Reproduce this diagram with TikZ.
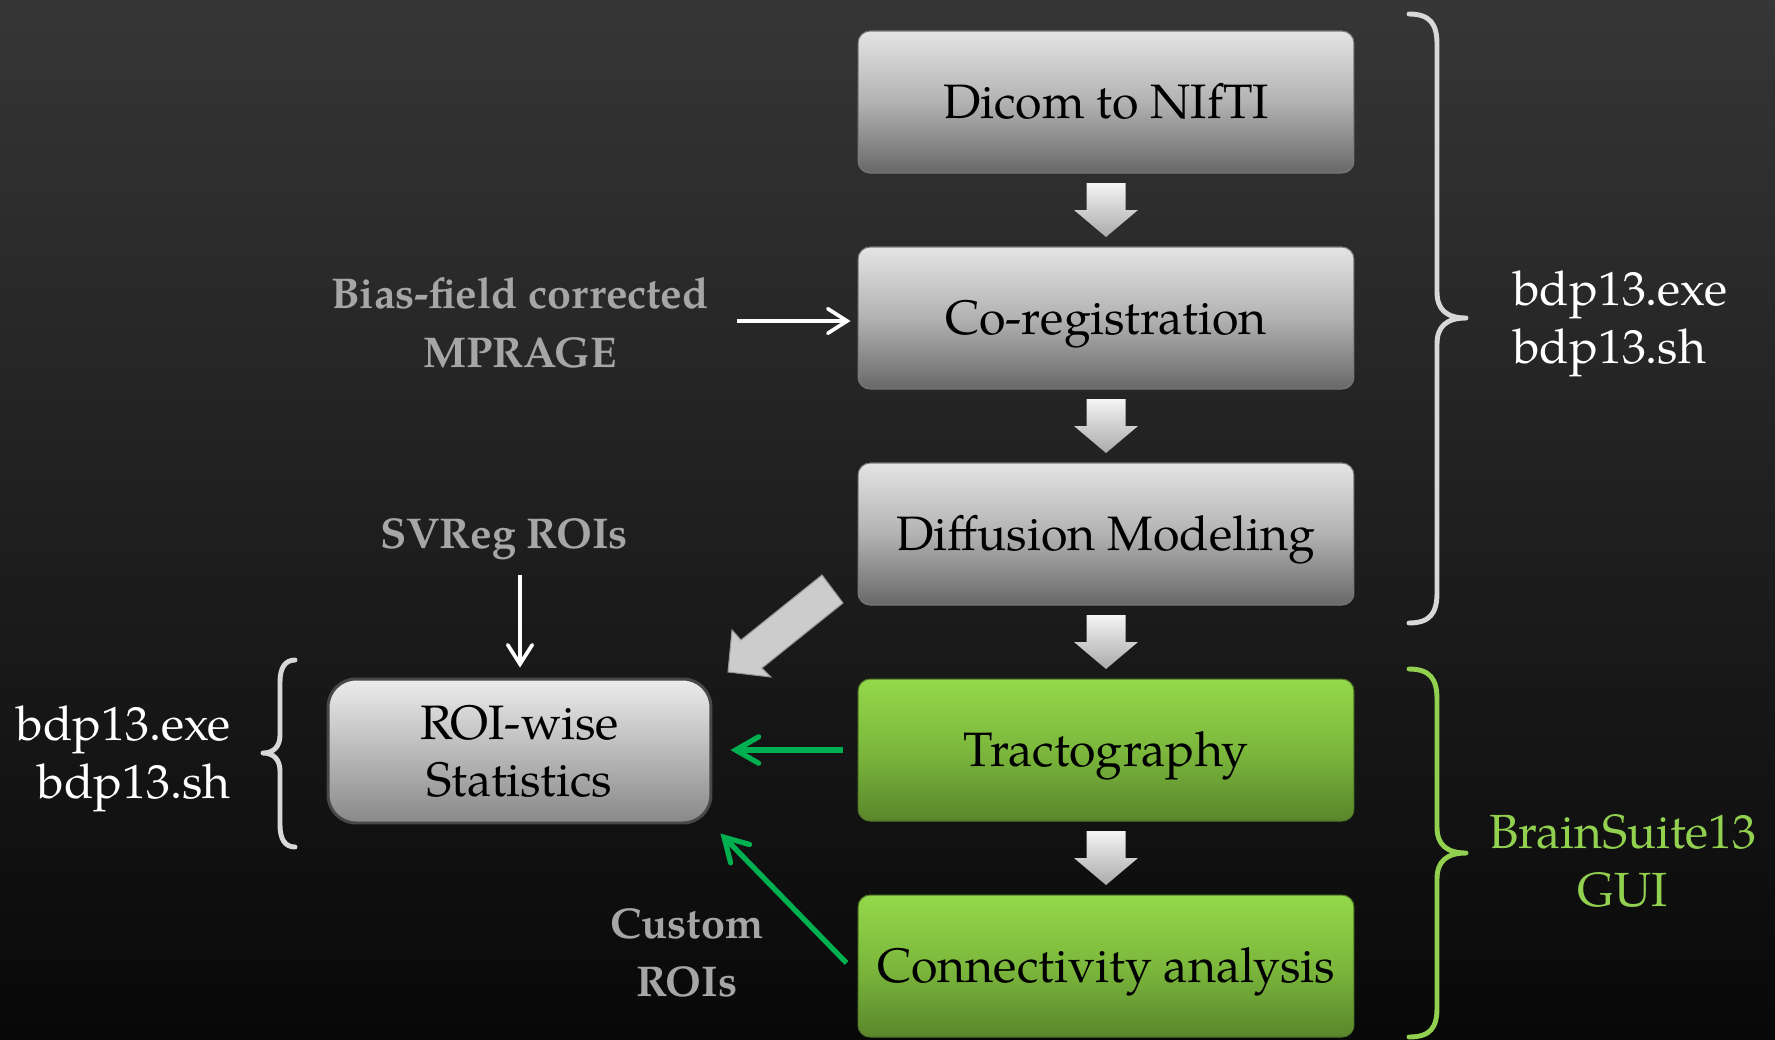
\documentclass[tikz,border=0pt]{standalone}
\usepackage{fontspec}
\setmainfont{texgyrepagella}[Extension=.otf, UprightFont=*-regular, BoldFont=*-bold, ItalicFont=*-italic, BoldItalicFont=*-bolditalic]
\usetikzlibrary{arrows.meta,calc}

\definecolor{bgtop}{RGB}{54,54,54}
\definecolor{bgbot}{RGB}{8,8,8}
\definecolor{gtop}{RGB}{228,228,228}
\definecolor{gmid}{RGB}{178,178,178}
\definecolor{gbot}{RGB}{104,104,104}
\definecolor{gedge}{RGB}{120,120,120}
\definecolor{ltop}{RGB}{148,216,74}
\definecolor{lmid}{RGB}{124,184,60}
\definecolor{lbot}{RGB}{90,134,44}
\definecolor{ledge}{RGB}{80,120,40}
\definecolor{rtop}{RGB}{236,236,236}
\definecolor{rbot}{RGB}{136,136,136}
\definecolor{redge}{RGB}{72,72,72}
\definecolor{atop}{RGB}{244,244,244}
\definecolor{abot}{RGB}{170,170,170}
\definecolor{labelgray}{RGB}{166,166,166}
\definecolor{bracegray}{RGB}{216,216,216}
\definecolor{suitegreen}{RGB}{146,208,80}
\definecolor{linkgreen}{RGB}{0,176,80}
\definecolor{bigarrow}{RGB}{204,204,204}
\definecolor{bigarrowedge}{RGB}{150,150,150}

\tikzset{
  flowbox/.style={rounded corners=0.24cm, minimum width=9.92cm, minimum height=2.84cm,
    inner sep=0pt, text=black, font=\fontsize{27.5}{33}\selectfont,
    text height=19pt, text depth=0pt},
  graybox/.style={flowbox, draw=gedge, line width=0.6pt,
    top color=gtop, bottom color=gbot, middle color=gmid},
  greenbox/.style={flowbox, draw=ledge, line width=0.6pt,
    top color=ltop, bottom color=lbot, middle color=lmid},
  roibox/.style={rounded corners=0.56cm, minimum width=7.66cm, minimum height=2.88cm,
    inner sep=0pt, text=black, font=\fontsize{27.5}{32.5}\selectfont, align=center,
    draw=redge, line width=1.7pt, top color=rtop, bottom color=rbot},
  graylabel/.style={text=labelgray, font=\bfseries\fontsize{24.5}{33.4}\selectfont, align=center},
  toollabel/.style={text=white, inner sep=0pt, font=\fontsize{27.3}{32.9}\selectfont},
  bracepen/.style={line width=2.8pt, line cap=round, line join=round},
  whitelink/.style={draw=white, line width=2.1pt,
    -{Straight Barb[length=11pt, width=14pt, line cap=round]}},
  greenlink/.style={draw=linkgreen, line width=3pt,
    -{Straight Barb[length=13pt, width=15pt, line cap=round]}},
  downarrow/.pic={
    \shade[top color=atop, bottom color=abot]
      (-19.5,-27) -- (19.5,-27) -- (19.5,0) -- (32,0) -- (0,27) -- (-32,0) -- (-19.5,0) -- cycle;
  }
}

\begin{document}
\begin{tikzpicture}[x=0.02cm, y=-0.02cm]
  % canvas and backdrop
  \useasboundingbox (0,0) rectangle (1775,1039);
  \shade[top color=bgtop, bottom color=bgbot] (0,0) rectangle (1775,1039);

  % processing chain
  \node[graybox]  (dicom) at (1106,102) {Dicom to NIfTI};
  \node[graybox]  (coreg) at (1106,318) {Co-registration};
  \node[graybox]  (diff)  at (1106,534) {Diffusion Modeling};
  \node[greenbox] (trac)  at (1106,750) {Tractography};
  \node[greenbox] (conn)  at (1106,966) {Connectivity analysis};

  % block arrows between the stages
  \pic at ($(dicom.south)!0.5!(coreg.north)$) {downarrow};
  \pic at ($(coreg.south)!0.5!(diff.north)$)  {downarrow};
  \pic at ($(diff.south)!0.5!(trac.north)$)   {downarrow};
  \pic at ($(trac.south)!0.5!(conn.north)$)   {downarrow};

  % statistics box
  \node[roibox] (roi) at (519.5,751) {\raisebox{-2pt}{ROI-wise}\\\raisebox{-2pt}{Statistics}};

  % inputs
  \node[graylabel] (mprage) at (520,323) {Bias-field corrected\\MPRAGE};
  \node[graylabel] (svreg)  at (504,539) {SVReg ROIs};
  \node[graylabel] (custom) at (687,953) {Custom\\ROIs};

  \coordinate (mpout) at (737,321);
  \draw[whitelink, shorten >=0.14cm] (mpout) -- (mpout -| coreg.west);
  \coordinate (svout) at (520,575);
  \draw[whitelink, shorten >=0.2cm] (svout) -- (svout |- roi.north);

  % links into the statistics box
  \draw[greenlink, shorten <=0.3cm, shorten >=0.36cm] (trac.west) -- (trac.west -| roi.east);
  \draw[greenlink] ($(conn.west)+(-11,-3)$) -- ($(roi.south east)+(8,9)$);

  % wide arrow from the diffusion model to the statistics
  \filldraw[fill=bigarrow, draw=bigarrowedge, line width=0.6pt, line join=miter]
    (728,672) -- (732,630) -- (741,640) -- (822,575) -- (843,603)
    -- (762,668) -- (771,677) -- cycle;

  % braces and tool annotations
  \draw[bracepen, draw=bracegray]
    (1409,14) .. controls (1430,14) and (1437,24) .. (1437,44)
    -- (1437,292) .. controls (1437,309) and (1446,318) .. (1466,318)
    .. controls (1446,318) and (1437,327) .. (1437,344)
    -- (1437,593) .. controls (1437,613) and (1430,623) .. (1409,623);
  \node[toollabel, align=left, anchor=west] (tools1) at (1513,324) {bdp13.exe\\bdp13.sh};

  \draw[bracepen, draw=suitegreen]
    (1409,669) .. controls (1430,669) and (1437,679) .. (1437,699)
    -- (1437,827) .. controls (1437,844) and (1446,853) .. (1466,853)
    .. controls (1446,853) and (1437,862) .. (1437,879)
    -- (1437,1008) .. controls (1437,1028) and (1430,1037) .. (1409,1037);
  \node[toollabel, text=suitegreen, align=center] (gui) at (1623,861) {BrainSuite13\\GUI};

  \draw[bracepen, draw=bracegray]
    (295,660) .. controls (285,660) and (280,668) .. (280,682)
    -- (280,735) .. controls (280,746) and (274,753) .. (263,753)
    .. controls (274,753) and (280,760) .. (280,771)
    -- (280,825) .. controls (280,839) and (285,847) .. (295,847);
  \node[toollabel, align=right, anchor=east] (tools2) at (231,759) {bdp13.exe\\bdp13.sh};
\end{tikzpicture}
\end{document}
